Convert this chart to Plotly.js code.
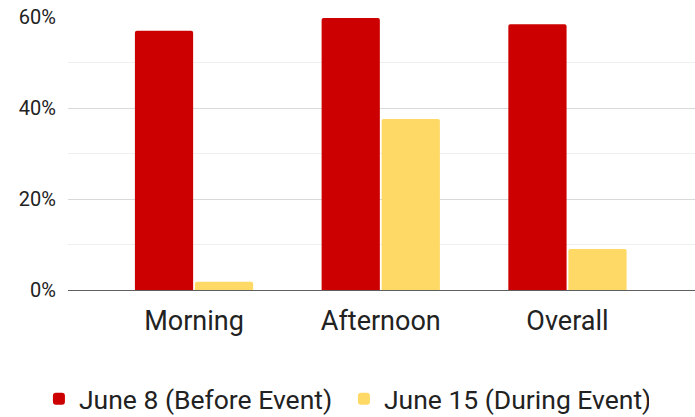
<!DOCTYPE html>
<html>
<head>
<meta charset="utf-8">
<script src="https://cdn.plot.ly/plotly-3.0.1.min.js"></script>
<style>html,body{margin:0;padding:0;background:#fff;}#chart{width:695px;height:417px;}</style>
</head>
<body>
<div id="chart"></div>
<script>
const categories = ["Morning", "Afternoon", "Overall"];
const seriesNames = ["June 8 (Before Event)", "June 15 (During Event)"];
const beforeEvent = [57.0, 59.8, 58.4];
const duringEvent = [1.8, 37.6, 9.0];
const yTickVals = [0, 20, 40, 60];
const yTickText = ["0%", "20%", "40%", "60%"];

const traces = [
  {type: "bar", name: seriesNames[0], x: categories, y: beforeEvent,
   marker: {color: "#cc0000", cornerradius: 2}, hoverinfo: "none"},
  {type: "bar", name: seriesNames[1], x: categories, y: duringEvent,
   marker: {color: "#ffd966", cornerradius: 2}, hoverinfo: "none"}
];

const layout = {
  width: 695, height: 417,
  margin: {l: 68, r: 0, t: 17, b: 127, autoexpand: false},
  paper_bgcolor: "#ffffff", plot_bgcolor: "#ffffff",
  font: {family: "Roboto, sans-serif", color: "#222222"},
  barmode: "group", bargap: 0.357, bargroupgap: 0.03,
  xaxis: {
    type: "category", range: [-0.675, 2.683], automargin: false,
    showgrid: false, showline: false, zeroline: false, ticks: "",
    tickfont: {size: 27, color: "#222222"}, ticklabelstandoff: 12, fixedrange: true
  },
  yaxis: {
    range: [0, 60], tickvals: yTickVals, ticktext: yTickText, automargin: false,
    showgrid: true, gridcolor: "#d9d9d9", gridwidth: 1,
    minor: {dtick: 10, tick0: 0, showgrid: true, gridcolor: "#efefef", gridwidth: 1, ticks: ""},
    zeroline: true, zerolinecolor: "#5f5f5f", zerolinewidth: 1,
    showline: false, ticks: "",
    tickfont: {size: 20, color: "#222222"}, ticklabelstandoff: 11, fixedrange: true
  },
  showlegend: true,
  legend: {
    orientation: "h", xref: "container", yref: "container",
    x: 0.056, xanchor: "left", y: 0.043, yanchor: "middle",
    font: {size: 26.5, color: "#222222"}, itemwidth: 30, traceorder: "normal",
    entrywidth: 260, entrywidthmode: "pixels"
  }
};

Plotly.newPlot("chart", traces, layout, {displayModeBar: false, staticPlot: true});
</script>
</body>
</html>
